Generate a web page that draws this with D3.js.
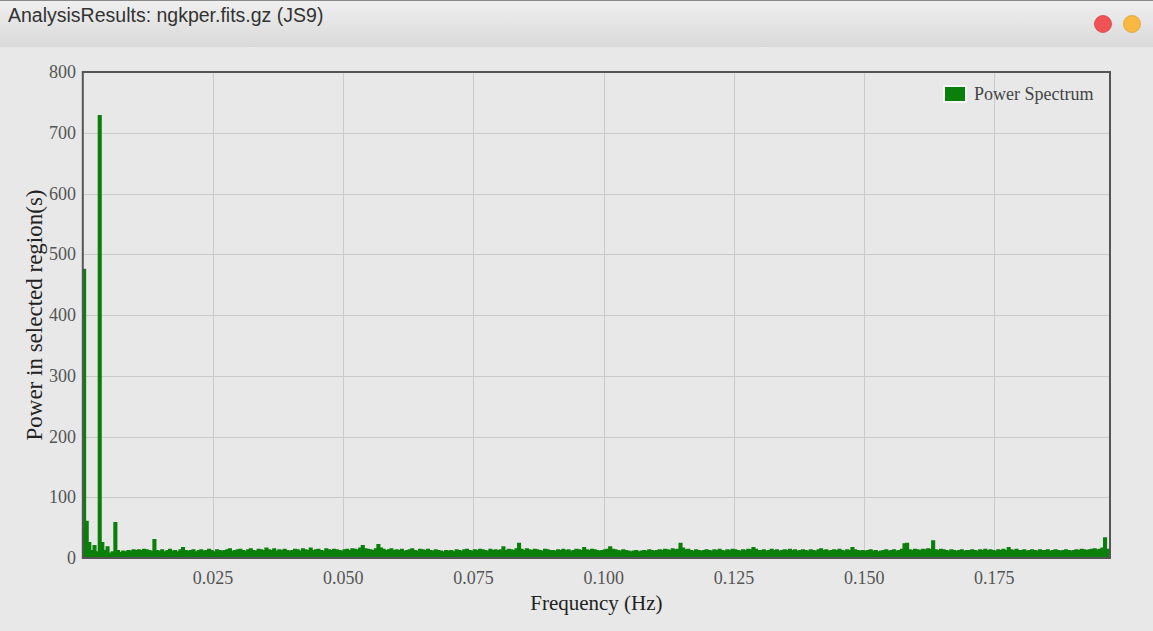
<!DOCTYPE html>
<html>
<head>
<meta charset="utf-8">
<script src="https://cdn.jsdelivr.net/npm/d3@7"></script>
<style>
  body { margin: 0; background: #e8e8e8; }
  svg { display: block; }
  .tick-label { font-family: "Liberation Serif", "DejaVu Serif", serif; font-size: 18px; fill: #555; }
  .axis-title { font-family: "Liberation Serif", "DejaVu Serif", serif; font-size: 21px; fill: #222; }
</style>
</head>
<body>
<svg width="1153" height="631"></svg>
<script>
// data: power spectrum, one value per frequency bin (bin width 0.0005 Hz, starting at 0)
const binWidth = 0.0005;
const freqMax = 0.1972;
const powerValues = [
  475, 60, 25, 12, 20, 10, 728, 25, 12, 18, 8, 10, 58, 12, 9, 11, 10, 12, 11, 13,
  12, 13, 12, 14, 13, 12, 11, 30, 12, 11, 13, 10, 12, 14, 11, 12, 10, 13, 17, 12,
  11, 12, 13, 10, 12, 13, 11, 12, 14, 12, 10, 13, 12, 11, 12, 13, 15, 11, 12, 13,
  14, 12, 11, 13, 15, 12, 11, 14, 13, 12, 16, 13, 12, 15, 11, 13, 12, 14, 12, 11,
  12, 14, 13, 11, 15, 13, 12, 16, 12, 13, 14, 12, 11, 15, 13, 12, 14, 13, 12, 11,
  13, 14, 12, 15, 14, 13, 16, 20, 15, 14, 13, 12, 15, 22, 16, 14, 12, 13, 15, 12,
  13, 12, 14, 11, 12, 13, 15, 12, 11, 14, 13, 12, 14, 12, 11, 13, 12, 11, 10, 12,
  11, 12, 10, 13, 12, 11, 13, 14, 12, 11, 13, 12, 14, 13, 12, 11, 14, 12, 13, 12,
  13, 18, 12, 14, 13, 12, 15, 24, 14, 12, 15, 13, 12, 14, 13, 12, 11, 14, 13, 12,
  12, 11, 13, 12, 14, 12, 13, 11, 12, 14, 13, 12, 17, 13, 12, 14, 13, 12, 11, 12,
  13, 14, 18, 14, 13, 12, 11, 13, 12, 11, 10, 11, 12, 10, 11, 12, 11, 13, 12, 11,
  12, 13, 12, 14, 13, 12, 15, 13, 14, 24, 16, 13, 14, 12, 11, 13, 12, 11, 12, 13,
  12, 11, 13, 12, 14, 12, 11, 13, 12, 14, 13, 12, 11, 13, 12, 14, 13, 17, 14, 12,
  12, 13, 11, 12, 14, 12, 13, 11, 12, 13, 12, 14, 12, 13, 11, 12, 13, 12, 11, 13,
  12, 11, 13, 15, 12, 13, 11, 12, 13, 12, 14, 12, 11, 13, 12, 17, 13, 12, 11, 12,
  11, 12, 13, 11, 12, 10, 11, 12, 13, 11, 12, 13, 11, 12, 14, 23, 24, 13, 12, 14,
  13, 12, 14, 13, 15, 14, 28, 13, 12, 14, 13, 12, 11, 13, 12, 11, 12, 13, 11, 12,
  12, 13, 12, 11, 13, 12, 14, 12, 13, 12, 11, 13, 12, 14, 12, 17, 13, 12, 14, 12,
  12, 13, 11, 12, 13, 12, 11, 13, 12, 12, 13, 11, 12, 13, 12, 11, 12, 13, 12, 11,
  12, 13, 12, 14, 13, 12, 13, 14, 15, 13, 14, 16, 33, 14
];
const yTicks = [0, 100, 200, 300, 400, 500, 600, 700, 800];
const xTicks = [0.025, 0.050, 0.075, 0.100, 0.125, 0.150, 0.175];
const seriesName = "Power Spectrum";
const windowTitle = "AnalysisResults: ngkper.fits.gz (JS9)";

const svg = d3.select("svg");
const width = +svg.attr("width");
const height = +svg.attr("height");

// window chrome
const defs = svg.append("defs");
const grad = defs.append("linearGradient")
  .attr("id", "titlebar")
  .attr("x1", 0).attr("y1", 0).attr("x2", 0).attr("y2", 1);
grad.append("stop").attr("offset", "0%").attr("stop-color", "#f0f0f0");
grad.append("stop").attr("offset", "100%").attr("stop-color", "#d9d9d9");

svg.append("rect").attr("width", width).attr("height", height).attr("fill", "#e8e8e8");
svg.append("rect").attr("width", width).attr("height", 47).attr("fill", "url(#titlebar)");
svg.append("line").attr("x1", 0).attr("x2", width).attr("y1", 0.5).attr("y2", 0.5)
  .attr("stroke", "#888").attr("stroke-width", 1);

svg.append("text")
  .attr("x", 8).attr("y", 22)
  .style("font-family", "'Liberation Sans', Arial, sans-serif")
  .style("font-size", "19.5px")
  .style("fill", "#333")
  .text(windowTitle);

svg.append("circle").attr("cx", 1103).attr("cy", 24).attr("r", 8.5)
  .attr("fill", "#f05256").attr("stroke", "#d84046").attr("stroke-width", 0.8);
svg.append("circle").attr("cx", 1132).attr("cy", 24).attr("r", 8.5)
  .attr("fill", "#f9b83f").attr("stroke", "#e0a030").attr("stroke-width", 0.8);

// plot area
const margin = { left: 82.8, right: 1110, top: 72, bottom: 558 };

const x = d3.scaleLinear()
  .domain([0, freqMax])
  .range([margin.left, margin.right]);

const y = d3.scaleLinear()
  .domain([0, 800])
  .range([margin.bottom, margin.top]);

// grid
const grid = svg.append("g");
grid.selectAll(".hgrid")
  .data(yTicks.slice(1, -1))
  .enter().append("line")
    .attr("x1", margin.left).attr("x2", margin.right)
    .attr("y1", d => Math.round(y(d)) + 0.5).attr("y2", d => Math.round(y(d)) + 0.5)
    .attr("stroke", "#cacaca").attr("stroke-width", 1);
grid.selectAll(".vgrid")
  .data(xTicks)
  .enter().append("line")
    .attr("x1", d => Math.round(x(d)) + 0.5).attr("x2", d => Math.round(x(d)) + 0.5)
    .attr("y1", margin.top).attr("y2", margin.bottom)
    .attr("stroke", "#cacaca").attr("stroke-width", 1);

// spectrum
const points = powerValues.map((v, i) => ({ f: i * binWidth, p: v }));
points.push({ f: freqMax, p: powerValues[powerValues.length - 1] });

const area = d3.area()
  .curve(d3.curveStepAfter)
  .x(d => x(d.f))
  .y0(y(0))
  .y1(d => y(d.p));

svg.append("path")
  .datum(points)
  .attr("d", area)
  .attr("fill", "#0a7f0a")
  .attr("stroke", "#0a7f0a")
  .attr("stroke-width", 1.5)
  .attr("stroke-linejoin", "miter");

// frame
svg.append("rect")
  .attr("x", margin.left).attr("y", margin.top)
  .attr("width", margin.right - margin.left)
  .attr("height", margin.bottom - margin.top)
  .attr("fill", "none")
  .attr("stroke", "#555").attr("stroke-width", 2);

// tick labels
svg.append("g").selectAll("text")
  .data(yTicks)
  .enter().append("text")
    .attr("class", "tick-label")
    .attr("x", 76)
    .attr("y", d => y(d) + 6)
    .attr("text-anchor", "end")
    .text(d => d);

const fmt = d3.format(".3f");
svg.append("g").selectAll("text")
  .data(xTicks)
  .enter().append("text")
    .attr("class", "tick-label")
    .attr("x", d => x(d))
    .attr("y", 584)
    .attr("text-anchor", "middle")
    .text(d => fmt(d));

// axis titles
svg.append("text")
  .attr("class", "axis-title")
  .style("font-size", "23px")
  .attr("transform", `translate(42, ${(margin.top + margin.bottom) / 2}) rotate(-90)`)
  .attr("text-anchor", "middle")
  .text("Power in selected region(s)");

svg.append("text")
  .attr("class", "axis-title")
  .attr("x", (margin.left + margin.right) / 2)
  .attr("y", 610)
  .attr("text-anchor", "middle")
  .text("Frequency (Hz)");

// legend
const legend = svg.append("g").attr("transform", "translate(943, 85)");
legend.append("rect")
  .attr("x", 0).attr("y", 0).attr("width", 24).attr("height", 18)
  .attr("fill", "#fff").attr("opacity", 0.6);
legend.append("rect")
  .attr("x", 2).attr("y", 2).attr("width", 20).attr("height", 14)
  .attr("fill", "#0a7f0a");
legend.append("text")
  .attr("class", "tick-label")
  .attr("x", 31).attr("y", 15)
  .style("fill", "#444")
  .text(seriesName);
</script>
</body>
</html>
